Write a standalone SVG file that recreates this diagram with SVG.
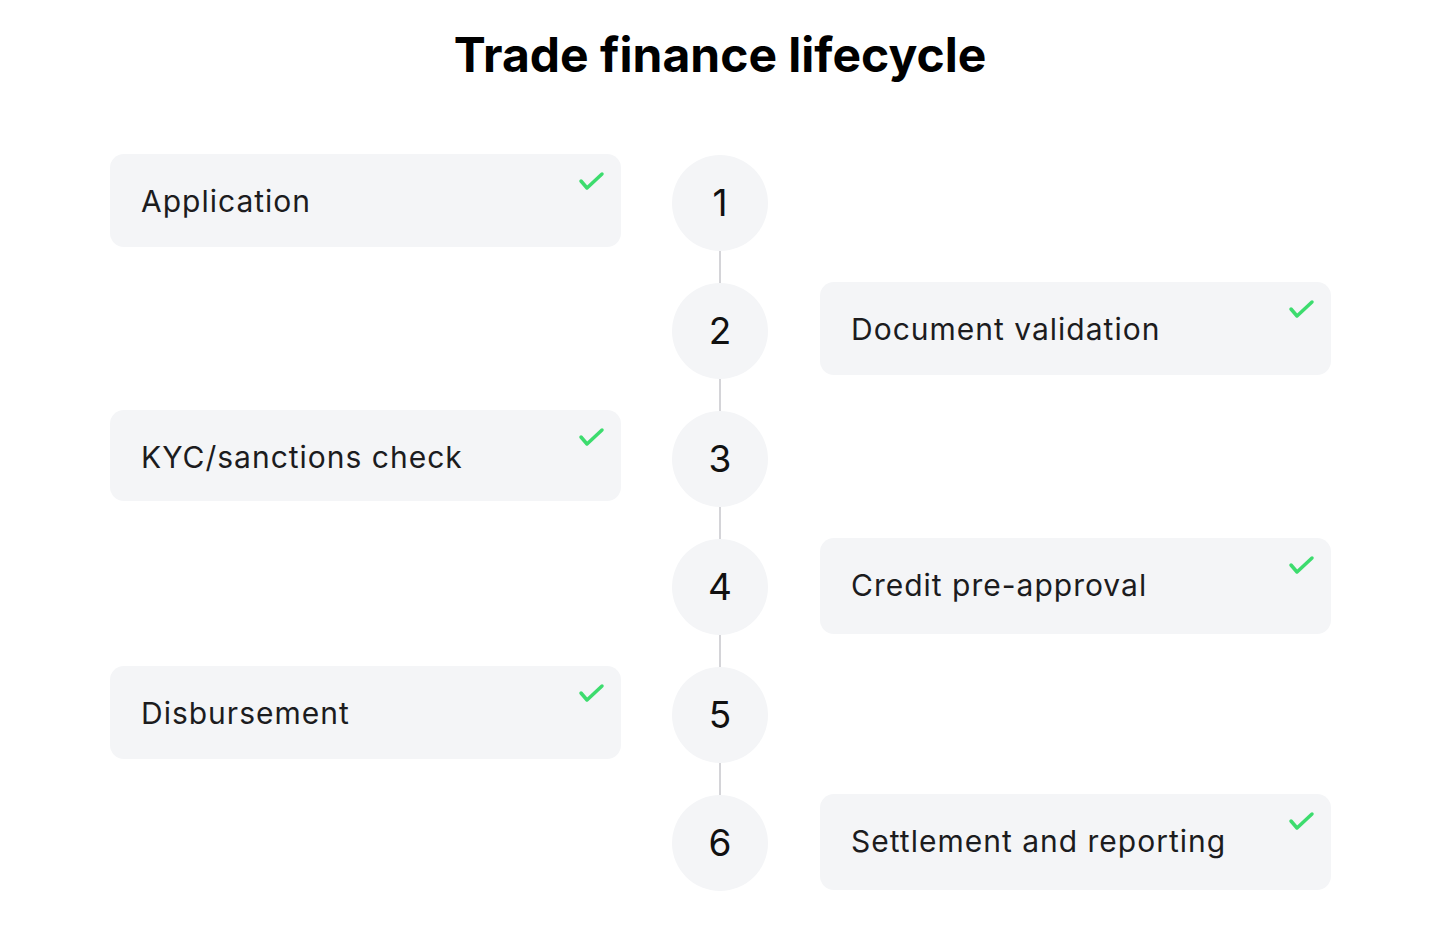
<svg xmlns="http://www.w3.org/2000/svg" width="1440" height="942" viewBox="0 0 1440 942">
<style>
.box{fill:#f4f5f7}
.circ{fill:#f4f5f7}
.lbl{font-family:Inter,"Liberation Sans",sans-serif;font-size:30px;letter-spacing:1px;fill:#1c1c1e}
.num{font-family:Inter,"Liberation Sans",sans-serif;font-size:37px;fill:#111;text-anchor:middle}
.chk{fill:none;stroke:#3ddc6e;stroke-width:3.5;stroke-linecap:round;stroke-linejoin:round}
.conn{stroke:#d4d4d8;stroke-width:2}
.title{font-family:Inter,"Liberation Sans",sans-serif;font-size:48px;font-weight:700;fill:#000;text-anchor:middle}
</style>
<rect width="1440" height="942" fill="#ffffff"/>
<text class="title" x="720" y="72">Trade finance lifecycle</text>
<g id="connectors">
<line class="conn" x1="720" y1="251" x2="720" y2="283"/>
<line class="conn" x1="720" y1="379" x2="720" y2="411"/>
<line class="conn" x1="720" y1="507" x2="720" y2="539"/>
<line class="conn" x1="720" y1="635" x2="720" y2="667"/>
<line class="conn" x1="720" y1="763" x2="720" y2="795"/>
</g>
<g id="step1">
<circle class="circ" cx="720" cy="203" r="48"/>
<text class="num" x="720" y="216">1</text>
<rect class="box" x="110" y="154" width="511" height="93" rx="14"/>
<text class="lbl" x="141" y="212">Application</text>
<path class="chk" d="M581 181 L587 188 L602 174"/>
</g>
<g id="step2">
<circle class="circ" cx="720" cy="331" r="48"/>
<text class="num" x="720" y="344">2</text>
<rect class="box" x="820" y="282" width="511" height="93" rx="14"/>
<text class="lbl" x="851" y="340">Document validation</text>
<path class="chk" d="M1291 309 L1297 316 L1312 302"/>
</g>
<g id="step3">
<circle class="circ" cx="720" cy="459" r="48"/>
<text class="num" x="720" y="472">3</text>
<rect class="box" x="110" y="410" width="511" height="91" rx="14"/>
<text class="lbl" x="141" y="468">KYC/sanctions check</text>
<path class="chk" d="M581 437 L587 444 L602 430"/>
</g>
<g id="step4">
<circle class="circ" cx="720" cy="587" r="48"/>
<text class="num" x="720" y="600">4</text>
<rect class="box" x="820" y="538" width="511" height="96" rx="14"/>
<text class="lbl" x="851" y="596">Credit pre-approval</text>
<path class="chk" d="M1291 565 L1297 572 L1312 558"/>
</g>
<g id="step5">
<circle class="circ" cx="720" cy="715" r="48"/>
<text class="num" x="720" y="728">5</text>
<rect class="box" x="110" y="666" width="511" height="93" rx="14"/>
<text class="lbl" x="141" y="724">Disbursement</text>
<path class="chk" d="M581 693 L587 700 L602 686"/>
</g>
<g id="step6">
<circle class="circ" cx="720" cy="843" r="48"/>
<text class="num" x="720" y="856">6</text>
<rect class="box" x="820" y="794" width="511" height="96" rx="14"/>
<text class="lbl" x="851" y="852">Settlement and reporting</text>
<path class="chk" d="M1291 821 L1297 828 L1312 814"/>
</g>
</svg>
